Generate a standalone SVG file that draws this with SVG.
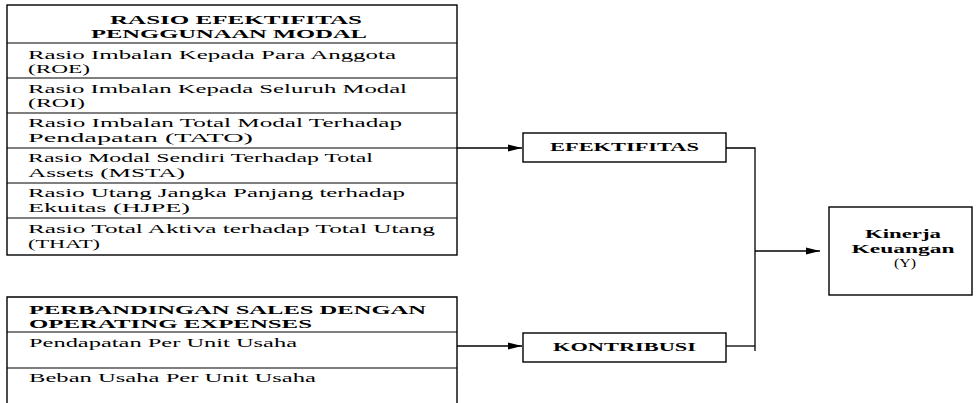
<svg xmlns="http://www.w3.org/2000/svg" width="976" height="403" viewBox="0 0 976 403">
<style>
.b{fill:none;stroke:#000;stroke-width:1.4}
.r{stroke:#000;stroke-width:1.1}
.c{fill:none;stroke:#000;stroke-width:1.3}
text{font-family:"Liberation Serif","Times New Roman",serif;font-size:13px;fill:#000}
.h{font-weight:bold;font-size:12.5px}
.s{font-weight:bold;font-size:12px}
</style>
<defs>
<marker id="ah" markerUnits="userSpaceOnUse" markerWidth="15" markerHeight="8" refX="14" refY="4" orient="auto">
<path d="M0,0.5 L14,4 L0,7.5 Z" fill="#000"/>
</marker>
</defs>
<g id="rasio-efektifitas">
<rect class="b" x="7" y="5" width="450" height="250"/>
<line class="r" x1="7" y1="43" x2="457" y2="43"/>
<line class="r" x1="7" y1="78" x2="457" y2="78"/>
<line class="r" x1="7" y1="113" x2="457" y2="113"/>
<line class="r" x1="7" y1="148" x2="457" y2="148"/>
<line class="r" x1="7" y1="183" x2="457" y2="183"/>
<line class="r" x1="7" y1="218" x2="457" y2="218"/>
<text class="h" x="236" y="23.5" text-anchor="middle" textLength="252" lengthAdjust="spacingAndGlyphs">RASIO EFEKTIFITAS</text>
<text class="h" x="229" y="37.5" text-anchor="middle" textLength="276" lengthAdjust="spacingAndGlyphs">PENGGUNAAN MODAL</text>
<text x="28" y="59" textLength="368" lengthAdjust="spacingAndGlyphs">Rasio Imbalan Kepada Para Anggota</text>
<text x="28" y="73" textLength="62" lengthAdjust="spacingAndGlyphs">(ROE)</text>
<text x="28" y="93" textLength="379" lengthAdjust="spacingAndGlyphs">Rasio Imbalan Kepada Seluruh Modal</text>
<text x="28" y="107" textLength="57" lengthAdjust="spacingAndGlyphs">(ROI)</text>
<text x="28" y="127" textLength="374" lengthAdjust="spacingAndGlyphs">Rasio Imbalan Total Modal Terhadap</text>
<text x="28" y="142" textLength="225" lengthAdjust="spacingAndGlyphs">Pendapatan (TATO)</text>
<text x="28" y="162" textLength="345" lengthAdjust="spacingAndGlyphs">Rasio Modal Sendiri Terhadap Total</text>
<text x="28" y="177" textLength="157" lengthAdjust="spacingAndGlyphs">Assets (MSTA)</text>
<text x="28" y="197" textLength="377" lengthAdjust="spacingAndGlyphs">Rasio Utang Jangka Panjang terhadap</text>
<text x="28" y="212" textLength="162" lengthAdjust="spacingAndGlyphs">Ekuitas (HJPE)</text>
<text x="28" y="233" textLength="407" lengthAdjust="spacingAndGlyphs">Rasio Total Aktiva terhadap Total Utang</text>
<text x="28" y="248" textLength="72" lengthAdjust="spacingAndGlyphs">(THAT)</text>
</g>
<g id="perbandingan-sales">
<path class="b" d="M7,404 V297 H457 V404"/>
<line class="r" x1="7" y1="332" x2="457" y2="332"/>
<line class="r" x1="7" y1="368" x2="457" y2="368"/>
<text class="h" x="29" y="313.5" textLength="397" lengthAdjust="spacingAndGlyphs">PERBANDINGAN SALES DENGAN</text>
<text class="h" x="29" y="327.5" textLength="283" lengthAdjust="spacingAndGlyphs">OPERATING EXPENSES</text>
<text x="29" y="347" textLength="268" lengthAdjust="spacingAndGlyphs">Pendapatan Per Unit Usaha</text>
<text x="29" y="382" textLength="287" lengthAdjust="spacingAndGlyphs">Beban Usaha Per Unit Usaha</text>
</g>
<g id="efektifitas">
<rect class="b" x="523" y="133" width="203" height="29"/>
<text class="s" x="624.5" y="151" text-anchor="middle" textLength="149" lengthAdjust="spacingAndGlyphs">EFEKTIFITAS</text>
</g>
<g id="kontribusi">
<rect class="b" x="523" y="333" width="203" height="29"/>
<text class="s" x="624.5" y="351" text-anchor="middle" textLength="143" lengthAdjust="spacingAndGlyphs">KONTRIBUSI</text>
</g>
<g id="kinerja-keuangan">
<rect class="b" x="829" y="207" width="143" height="88"/>
<text class="h" x="903" y="238" text-anchor="middle" textLength="76" lengthAdjust="spacingAndGlyphs">Kinerja</text>
<text class="h" x="903" y="253" text-anchor="middle" textLength="103" lengthAdjust="spacingAndGlyphs">Keuangan</text>
<text x="905" y="267" text-anchor="middle" font-size="11" textLength="22" lengthAdjust="spacingAndGlyphs">(Y)</text>
</g>
<g id="connectors">
<line class="c" x1="457" y1="148" x2="522" y2="148" marker-end="url(#ah)"/>
<line class="c" x1="457" y1="346" x2="522" y2="346" marker-end="url(#ah)"/>
<polyline class="c" points="726,148 755,148 755,351"/>
<line class="c" x1="726" y1="346" x2="755" y2="346"/>
<line class="c" x1="755" y1="251" x2="820" y2="251" marker-end="url(#ah)"/>
</g>
</svg>
